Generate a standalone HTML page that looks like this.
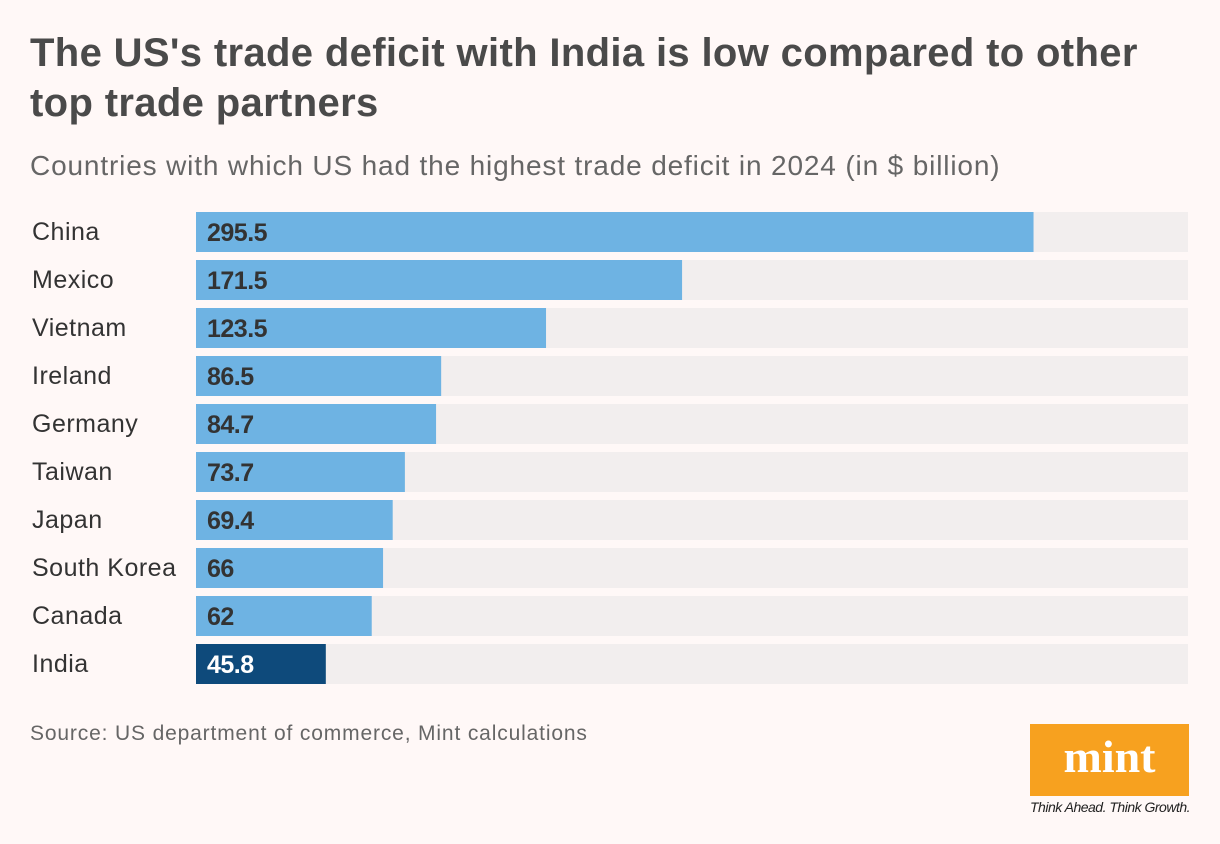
<!DOCTYPE html>
<html><head><meta charset="utf-8"><style>
body{margin:0;background:#fff8f7;width:1220px;height:844px;overflow:hidden;font-family:"Liberation Sans",sans-serif;position:relative}
.t{position:absolute;left:30px;top:28px;font-size:40px;font-weight:bold;color:#4a4a4a;line-height:50px;letter-spacing:0.35px}
.s{position:absolute;left:30px;top:150px;font-size:28px;color:#666;letter-spacing:0.85px}
.src{position:absolute;left:30px;top:722px;font-size:21px;color:#666;letter-spacing:0.85px}
</style></head><body>
<div class="t">The US's trade deficit with India is low compared to other<br>top trade partners</div>
<div class="s">Countries with which US had the highest trade deficit in 2024 (in $ billion)</div>
<svg id="c" width="1220" height="844" style="position:absolute;left:0;top:0"></svg>
<div class="src">Source: US department of commerce, Mint calculations</div>
<div style="position:absolute;left:1030px;top:724px;width:159px;height:72px;background:#f7a11f;color:#fff;font-family:'Liberation Serif',serif;font-weight:bold;font-size:46px;text-align:center;line-height:66px">mint</div>
<div style="position:absolute;left:1030px;top:799px;font-size:14px;font-style:italic;color:#222;letter-spacing:-0.5px">Think Ahead. Think Growth.</div>
<script>
const categories=["China","Mexico","Vietnam","Ireland","Germany","Taiwan","Japan","South Korea","Canada","India"];
const values=[295.5,171.5,123.5,86.5,84.7,73.7,69.4,66,62,45.8];
const labels=["295.5","171.5","123.5","86.5","84.7","73.7","69.4","66","62","45.8"];
const xMax=350;
const svg=document.getElementById('c');const NS="http://www.w3.org/2000/svg";
const x0=196,x1=1188,top0=212,pitch=48,bh=40;
const xs=v=>x0+(x1-x0)*v/xMax;
function mk(t,a){const e=document.createElementNS(NS,t);for(const k in a)e.setAttribute(k,a[k]);svg.appendChild(e);return e;}
categories.forEach((c,i)=>{
 const y=top0+i*pitch;
 const tr=mk('rect',{x:x0,y:y,width:x1-x0,height:bh,fill:'#f2eeee'});
 
 
 const b=mk('rect',{x:x0,y:y,width:xs(values[i])-x0,height:bh,fill:c==='India'?'#0e4a7b':'#6eb3e3'});
 
 
 const l=mk('text',{x:32,y:y+28,'font-size':25,fill:'#333','font-family':'Liberation Sans, sans-serif','letter-spacing':'0.5'});l.textContent=c;
 
 
 const v=mk('text',{x:207,y:y+29,'font-size':25,'font-weight':'bold',fill:c==='India'?'#fff':'#333','font-family':'Liberation Sans, sans-serif','letter-spacing':'-0.5'});v.textContent=labels[i];
 
 
});
</script>
</body></html>
